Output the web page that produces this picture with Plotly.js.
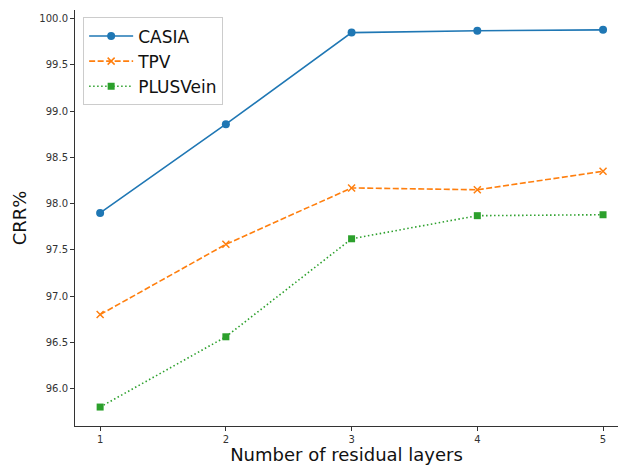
<!DOCTYPE html>
<html>
<head>
<meta charset="utf-8">
<script src="https://cdn.plot.ly/plotly-3.0.1.min.js"></script>
<style>html,body{margin:0;padding:0;background:#fff;}#chart{width:618px;height:465px;}</style>
</head>
<body>
<div id="chart"></div>
<script>
const layers = [1, 2, 3, 4, 5];
const casia = [97.90, 98.86, 99.85, 99.87, 99.88];
const tpv = [96.80, 97.56, 98.17, 98.15, 98.35];
const plusvein = [95.80, 96.56, 97.62, 97.87, 97.88];
const seriesNames = ['CASIA', 'TPV', 'PLUSVein'];
const xTicks = ['1', '2', '3', '4', '5'];
const yTickVals = [96.0, 96.5, 97.0, 97.5, 98.0, 98.5, 99.0, 99.5, 100.0];

const font = 'DejaVu Sans, sans-serif';
const traces = [
  {x: layers, y: casia, name: seriesNames[0], mode: 'lines+markers',
   line: {color: '#1f77b4', width: 1.6, dash: 'solid'},
   marker: {symbol: 'circle', size: 8, color: '#1f77b4'}},
  {x: layers, y: tpv, name: seriesNames[1], mode: 'lines+markers',
   line: {color: '#ff7f0e', width: 1.6, dash: '6px,2.5px'},
   marker: {symbol: 'x-thin', size: 7, color: '#ff7f0e', line: {color: '#ff7f0e', width: 1.5}}},
  {x: layers, y: plusvein, name: seriesNames[2], mode: 'lines+markers',
   line: {color: '#2ca02c', width: 1.6, dash: '1.5px,2.5px'},
   marker: {symbol: 'square', size: 7, color: '#2ca02c'}}
];
const layout = {
  width: 618, height: 465,
  margin: {l: 75, r: 0, t: 10, b: 39},
  paper_bgcolor: '#fff', plot_bgcolor: '#fff',
  font: {family: font, color: '#222'},
  showlegend: true,
  legend: {x: 0.015, y: 0.982, xanchor: 'left', yanchor: 'top',
    bgcolor: 'rgba(255,255,255,0.8)', bordercolor: '#cccccc', borderwidth: 1,
    font: {family: font, size: 17, color: '#111'}, itemwidth: 44, tracegroupgap: 0},
  xaxis: {range: [0.8, 5.119], tickvals: layers, ticktext: xTicks,
    showgrid: false, zeroline: false, showline: true, linecolor: '#333', linewidth: 1,
    ticks: 'outside', ticklen: 4, tickcolor: '#333', tickfont: {family: font, size: 10, color: '#333'},
    title: {text: 'Number of residual layers', font: {family: font, size: 18, color: '#111'}, standoff: 6}},
  yaxis: {range: [95.595, 100.0945], tickvals: yTickVals,
    ticktext: yTickVals.map(v => v.toFixed(1)),
    showgrid: false, zeroline: false, showline: true, linecolor: '#333', linewidth: 1,
    ticks: 'outside', ticklen: 4, tickcolor: '#333', tickfont: {family: font, size: 10, color: '#333'},
    title: {text: 'CRR%', font: {family: font, size: 18, color: '#111'}, standoff: 8}}
};
Plotly.newPlot('chart', traces, layout, {displayModeBar: false, staticPlot: true});
</script>
</body>
</html>
